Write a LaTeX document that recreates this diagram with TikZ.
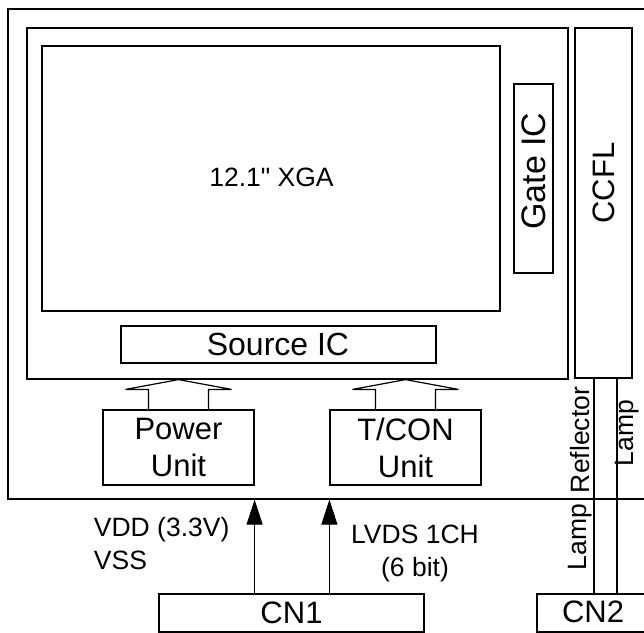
\documentclass[tikz,border=0pt]{standalone}
\usepackage{fontspec}
\setmainfont{Liberation Sans}
\newfontfamily\plainfont{Liberation Sans}
\usetikzlibrary{arrows.meta, calc}

\begin{document}
\begin{tikzpicture}[
        x=1pt, y=-1pt,
        font=\fontsize{31}{37}\selectfont,
        line width=1.2pt,
        blk/.style={draw, inner sep=0pt, align=center},
        lbl/.style={font=\fontsize{26.5}{33}\selectfont},
        >={Triangle[length=25pt, width=16pt]}
      ]
        \useasboundingbox (0,0) rectangle (644,632);
        \clip (0,0) rectangle (644,632);

        % module outline and panel
        \node[blk, minimum width=660, minimum height=490] (module) at (338,254) {};
        \node[blk, minimum width=541, minimum height=351] (panel) at (297.5,203.5) {};
        \node[blk, minimum width=458, minimum height=265] (lcd) at (271,178.5) {};
        \node[font=\plainfont\fontsize{26.5}{33}\selectfont] at (271.5,177) {12.1" XGA};
        \node[blk, minimum width=39, minimum height=189] (gate) at (533.5,178.5) {};
        \node[rotate=90, font=\fontsize{34}{37}\selectfont] at (534,171) {Gate IC};
        \node[blk, minimum width=315, minimum height=37] (src) at (278.5,344.5) {};
        \node[font=\fontsize{32}{37}\selectfont] at (278,344.5) {Source IC};
        \node[blk, minimum width=57, minimum height=350] (ccfl) at (603.5,203) {};
        \node[rotate=90] at (604,183) {CCFL};

        % units
        \node[blk, minimum width=151, minimum height=75] (pwr) at (178.5,447.5) {Power\\Unit};
        \node[blk, minimum width=151, minimum height=75] (tcon) at (405.5,447.5) {T/CON\\Unit};
        \foreach \u in {pwr,tcon}{
          \draw ($(\u.north)+(-30,0)$) -- ++(0,-20) -- ++(-23,0) -- (\u.north |- panel.south)
                -- ($(\u.north)+(53,-20)$) -- ++(-23,0) -- ++(0,20);
        }

        % connectors
        \node[blk, minimum width=265, minimum height=38] (cn1) at (291.5,613) {CN1};
        \node[blk, minimum width=123, minimum height=38] (cn2) at (598.5,613) {};
        \node at (593,612) {CN2};

        \draw[->] (cn1.north -| pwr.east) -- (module.south -| pwr.east);
        \draw[->] (cn1.north -| tcon.west) -- (module.south -| tcon.west);
        \node[lbl, anchor=west, align=left] (vdd) at (90,543.5) {VDD (3.3V)\\VSS};
        \node[lbl, align=center] (lvds) at (415,553) {LVDS 1CH\\(6 bit)};

        % lamp wires
        \coordinate (w1) at (594,0);
        \coordinate (w2) at (617,0);
        \draw (ccfl.south -| w1) -- (cn2.north -| w1);
        \draw (ccfl.south -| w2) -- (cn2.north -| w2);
        \node[lbl, rotate=90] at (580,440) {Reflector};
        \node[lbl, rotate=90] at (627,433) {Lamp};
        \node[lbl, rotate=90] at (580,537) {Lamp};
    \end{tikzpicture}
\end{document}
